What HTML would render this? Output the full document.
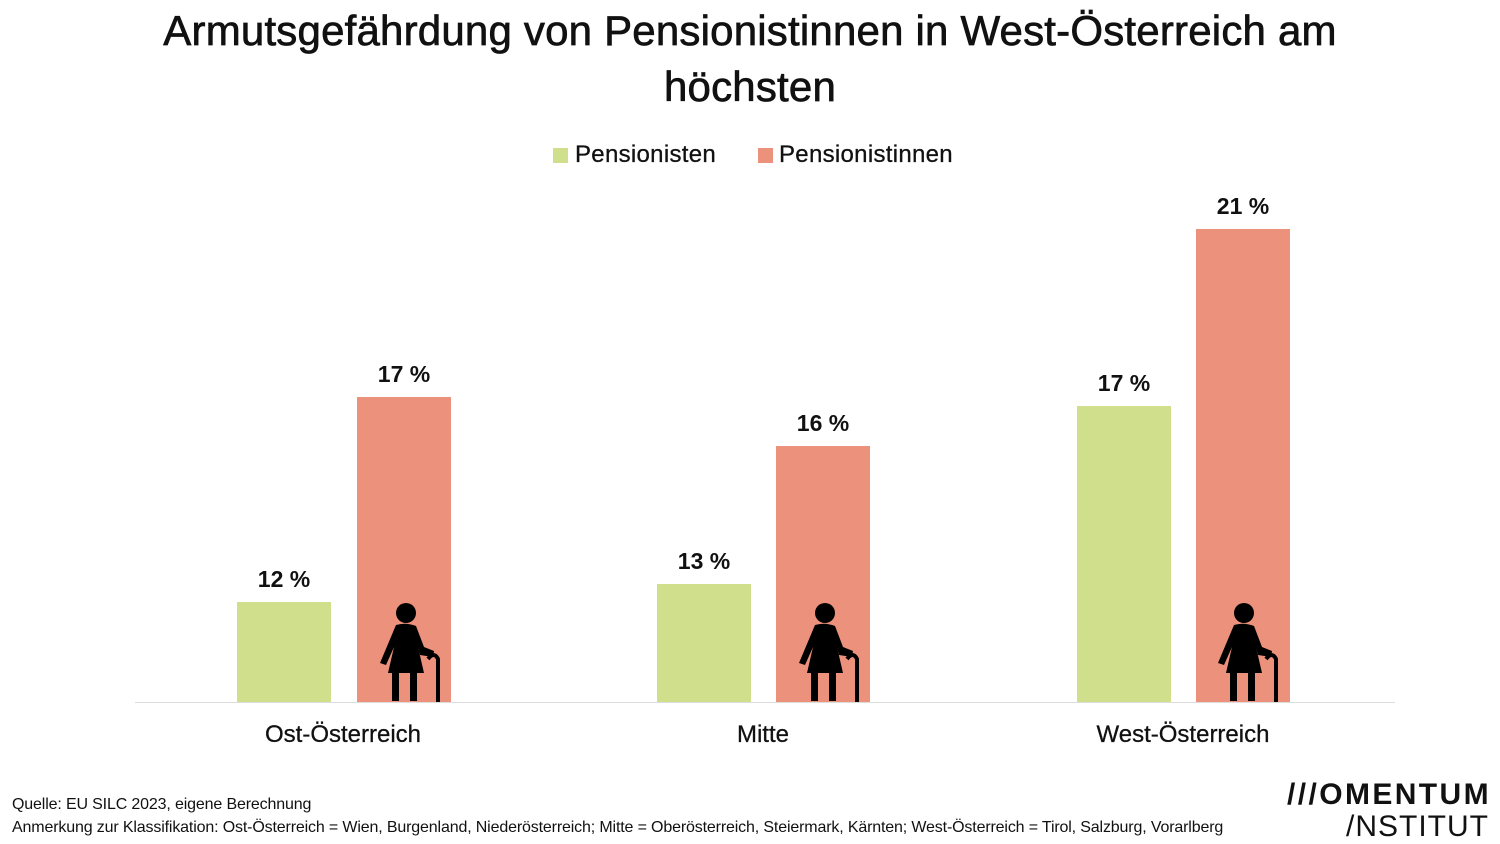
<!DOCTYPE html>
<html><head><meta charset="utf-8"><style>
body{margin:0;width:1500px;height:844px;background:#fff;position:relative;overflow:hidden;font-family:"Liberation Sans",sans-serif;color:#111}
.a{position:absolute;white-space:nowrap}
.t{left:0;width:1500px;text-align:center;font-size:42px;letter-spacing:0.2px;-webkit-text-stroke:0.7px #111}
.g{background:#d0df8c;position:absolute;width:94px}
.r{background:#ec917b;position:absolute;width:94px}
.v{position:absolute;width:120px;text-align:center;font-size:23px;font-weight:bold}
.c{position:absolute;width:300px;text-align:center;font-size:24px;top:721px;-webkit-text-stroke:0.3px #111}
.f{font-size:16px;left:12px;letter-spacing:-0.15px}
</style></head><body>
<div class="a t" style="top:7px">Armutsgefährdung von Pensionistinnen in West-Österreich am</div>
<div class="a t" style="top:63px">höchsten</div>
<div class="a" style="left:553px;top:148px;width:15px;height:15px;background:#d0df8c"></div>
<div class="a" style="left:575px;top:141px;font-size:24px;letter-spacing:0.3px;-webkit-text-stroke:0.3px #111">Pensionisten</div>
<div class="a" style="left:758px;top:148px;width:15px;height:15px;background:#ec917b"></div>
<div class="a" style="left:779px;top:141px;font-size:24px;letter-spacing:0.3px;-webkit-text-stroke:0.3px #111">Pensionistinnen</div>
<div class="a" style="left:135px;top:702px;width:1260px;height:1px;background:#ddd"></div>

<div class="g" style="left:237px;top:602px;height:100px"></div>
<div class="r" style="left:357px;top:397px;height:305px"></div>
<div class="g" style="left:657px;top:584px;height:118px"></div>
<div class="r" style="left:776px;top:446px;height:256px"></div>
<div class="g" style="left:1077px;top:406px;height:296px"></div>
<div class="r" style="left:1196px;top:229px;height:473px"></div>

<div class="v" style="left:224px;top:566px">12 %</div>
<div class="v" style="left:344px;top:361px">17 %</div>
<div class="v" style="left:644px;top:548px">13 %</div>
<div class="v" style="left:763px;top:410px">16 %</div>
<div class="v" style="left:1064px;top:370px">17 %</div>
<div class="v" style="left:1183px;top:193px">21 %</div>

<div class="c" style="left:193px">Ost-Österreich</div>
<div class="c" style="left:613px">Mitte</div>
<div class="c" style="left:1033px">West-Österreich</div>

<svg width="0" height="0" style="position:absolute"><defs><g id="w">
<circle cx="34" cy="10" r="10" fill="#000"/>
<path d="M24 22 Q34 19 44 23 L52 44 L62 48 L61 54 L48 52 L46 44 L52 70 L16 70 L22 44 L14 62 L8 60 Z" fill="#000"/>
<rect x="20" y="68" width="7" height="30" fill="#000"/>
<rect x="38" y="68" width="7" height="30" fill="#000"/>
<path d="M56 56 Q62 48 66 56 L66 99" stroke="#000" stroke-width="4" fill="none"/>
</g></defs></svg>
<svg class="a" style="left:372px;top:603px" width="70" height="100"><use href="#w"/></svg>
<svg class="a" style="left:791px;top:603px" width="70" height="100"><use href="#w"/></svg>
<svg class="a" style="left:1210px;top:603px" width="70" height="100"><use href="#w"/></svg>

<div class="a f" style="top:796px">Quelle: EU SILC 2023, eigene Berechnung</div>
<div class="a f" style="top:819px">Anmerkung zur Klassifikation: Ost-Österreich = Wien, Burgenland, Niederösterreich; Mitte = Oberösterreich, Steiermark, Kärnten; West-Österreich = Tirol, Salzburg, Vorarlberg</div>
<div class="a" style="left:1287px;top:778px;font-size:30px;font-weight:bold;letter-spacing:2.4px">///OMENTUM</div>
<div class="a" style="left:1346px;top:810px;font-size:30px;letter-spacing:1px">/NSTITUT</div>
</body></html>
